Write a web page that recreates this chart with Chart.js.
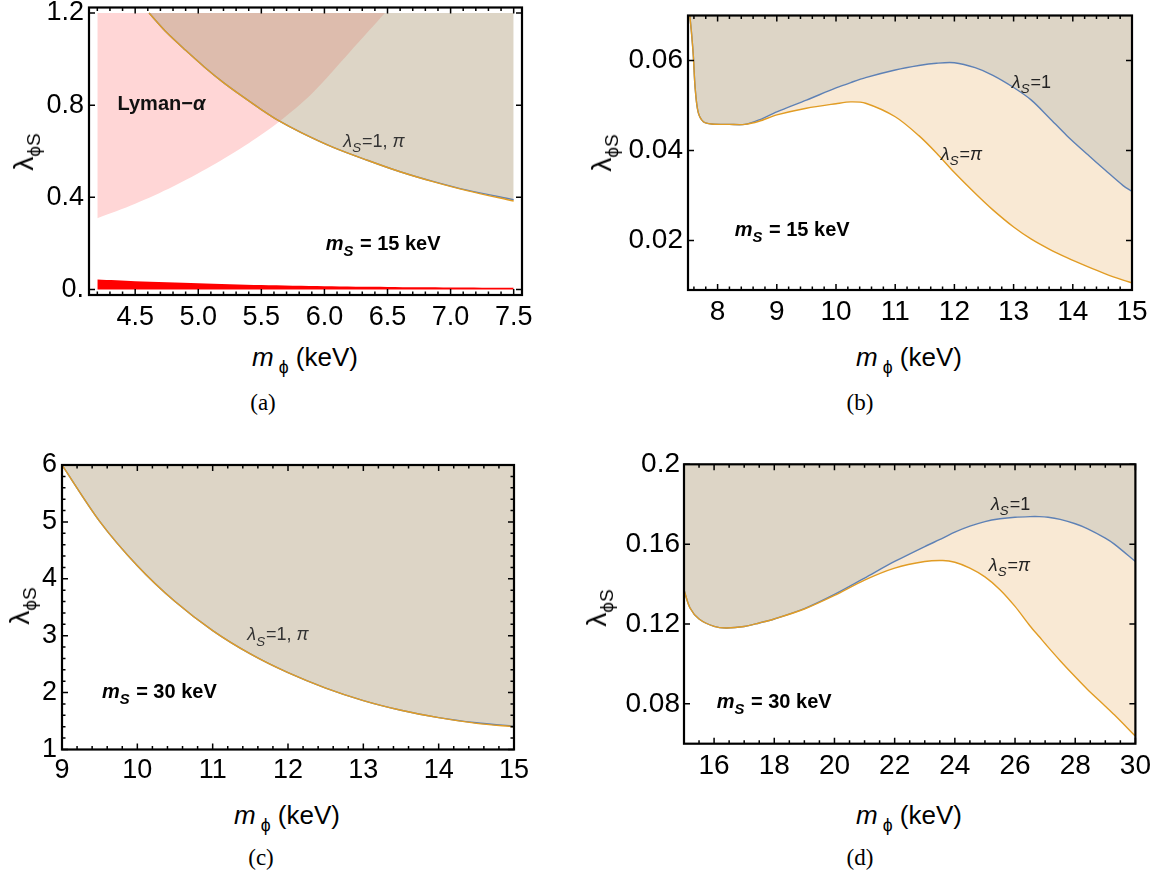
<!DOCTYPE html>
<html><head><meta charset="utf-8">
<script src="https://cdn.jsdelivr.net/npm/chart.js@4.4.1/dist/chart.umd.min.js"></script>
<style>
html,body{margin:0;padding:0;background:#fff;}
body{width:1168px;height:875px;position:relative;overflow:hidden;font-family:"Liberation Sans",Arial,sans-serif;}
canvas{position:absolute;}
.lbl{position:absolute;white-space:nowrap;color:#000;line-height:1;transform:translate(-50%,-50%);}
.xt{font-size:26px;}
.yt{font-size:28px;transform:translate(-50%,-50%) rotate(-90deg);}
.cap{font-family:"Liberation Serif","DejaVu Serif",serif;font-size:23px;}
.sb{font-size:68%;position:relative;top:0.38em;}
</style></head><body>
<canvas id="ca" width="545" height="340" style="left:0px;top:0px"></canvas>
<canvas id="cb" width="588" height="340" style="left:580px;top:0px"></canvas>
<canvas id="cc" width="545" height="340" style="left:0px;top:440px"></canvas>
<canvas id="cd" width="588" height="340" style="left:580px;top:440px"></canvas>

<div class="lbl yt" style="left:24px;top:152px">λ<span class="sb">ϕS</span></div>
<div class="lbl xt" style="left:305px;top:357px"><i>m</i><span class="sb"> ϕ</span> (keV)</div>
<div class="lbl cap" style="left:263px;top:402px">(a)</div>

<div class="lbl yt" style="left:602px;top:153px">λ<span class="sb">ϕS</span></div>
<div class="lbl xt" style="left:909px;top:357px"><i>m</i><span class="sb"> ϕ</span> (keV)</div>
<div class="lbl cap" style="left:860px;top:402px">(b)</div>

<div class="lbl yt" style="left:20px;top:606px">λ<span class="sb">ϕS</span></div>
<div class="lbl xt" style="left:287px;top:815px"><i>m</i><span class="sb"> ϕ</span> (keV)</div>
<div class="lbl cap" style="left:261px;top:857px">(c)</div>

<div class="lbl yt" style="left:597px;top:608px">λ<span class="sb">ϕS</span></div>
<div class="lbl xt" style="left:909px;top:815px"><i>m</i><span class="sb"> ϕ</span> (keV)</div>
<div class="lbl cap" style="left:860px;top:857px">(d)</div>

<script>
// ---------- Panel (a): m_S = 15 keV ----------
const aMphi    = [4.61, 4.75, 4.90, 5.05, 5.20, 5.35, 5.50, 5.63, 5.82, 6.07, 6.34, 6.60, 6.86, 7.13, 7.50];
const aLamS1   = [1.20, 1.115, 1.038, 0.965, 0.898, 0.838, 0.781, 0.735, 0.680, 0.617, 0.561, 0.511, 0.469, 0.431, 0.390];
const aLamSpi  = [1.20, 1.115, 1.038, 0.965, 0.898, 0.838, 0.781, 0.735, 0.680, 0.617, 0.561, 0.511, 0.468, 0.429, 0.384];
const aLymanMphi = [4.20, 4.50, 4.80, 5.10, 5.40, 5.64, 5.90, 6.20, 6.48];
const aLymanLam  = [0.309, 0.372, 0.447, 0.535, 0.635, 0.728, 0.85, 1.03, 1.20];
const aBandMphi = [4.2, 4.5, 5.0, 5.5, 6.0, 6.5, 7.0, 7.5];
const aBandLam  = [0.043, 0.036, 0.027, 0.019, 0.014, 0.011, 0.009, 0.008];
const aXTicks = [4.5, 5.0, 5.5, 6.0, 6.5, 7.0, 7.5];
const aXTickLabels = ["4.5", "5.0", "5.5", "6.0", "6.5", "7.0", "7.5"];
const aYTicks = [0, 0.4, 0.8, 1.2];
const aYTickLabels = ["0.", "0.4", "0.8", "1.2"];

// ---------- Panel (b): m_S = 15 keV ----------
const bMphi   = [7.53, 7.56, 7.59, 7.62, 7.67, 7.76, 7.9, 8.2, 8.46, 8.7, 9.0, 9.5, 10.0, 10.25, 10.5, 11.0, 11.4, 11.7, 12.0, 12.35, 12.65, 13.0, 13.3, 13.6, 13.9, 14.25, 14.55, 14.85, 15.0];
const bLamS1  = [0.070, 0.066, 0.061, 0.054, 0.0486, 0.0464, 0.0459, 0.0458, 0.0458, 0.0468, 0.0486, 0.0512, 0.0539, 0.0551, 0.0562, 0.0579, 0.0589, 0.0594, 0.0595, 0.0584, 0.0567, 0.0540, 0.0512, 0.0473, 0.0433, 0.0391, 0.0356, 0.0322, 0.0309];
const bLamSpi = [0.070, 0.066, 0.061, 0.054, 0.0486, 0.0464, 0.0459, 0.0458, 0.0458, 0.0465, 0.0479, 0.0494, 0.0504, 0.0508, 0.0505, 0.0475, 0.0433, 0.0394, 0.0351, 0.0305, 0.0268, 0.0230, 0.0203, 0.0181, 0.0162, 0.0142, 0.0126, 0.0112, 0.0106];
const bXTicks = [8, 9, 10, 11, 12, 13, 14, 15];
const bXTickLabels = ["8", "9", "10", "11", "12", "13", "14", "15"];
const bYTicks = [0.02, 0.04, 0.06];
const bYTickLabels = ["0.02", "0.04", "0.06"];

// ---------- Panel (c): m_S = 30 keV ----------
const cMphi   = [9.0, 9.5, 10.0, 10.5, 11.0, 11.5, 12.0, 12.5, 13.0, 13.5, 14.0, 14.5, 15.0];
const cLamS1  = [6.0, 5.01, 4.23, 3.60, 3.09, 2.68, 2.35, 2.08, 1.86, 1.69, 1.56, 1.47, 1.41];
const cLamSpi = [6.0, 5.01, 4.23, 3.60, 3.09, 2.68, 2.35, 2.08, 1.86, 1.69, 1.56, 1.46, 1.40];
const cXTicks = [9, 10, 11, 12, 13, 14, 15];
const cXTickLabels = ["9", "10", "11", "12", "13", "14", "15"];
const cYTicks = [1, 2, 3, 4, 5, 6];
const cYTickLabels = ["1", "2", "3", "4", "5", "6"];

// ---------- Panel (d): m_S = 30 keV ----------
const dMphi   = [15.0, 15.2, 15.5, 16.0, 16.4, 17.0, 17.5, 18.0, 19.0, 20.0, 21.0, 22.0, 23.0, 23.6, 24.0, 24.5, 25.0, 25.5, 26.0, 26.5, 26.8, 27.1, 27.5, 28.0, 28.4, 29.0, 29.3, 30.0];
const dLamS1  = [0.137, 0.128, 0.1225, 0.1188, 0.118, 0.1187, 0.1205, 0.1225, 0.1277, 0.1348, 0.1430, 0.1513, 0.1588, 0.1630, 0.1660, 0.1690, 0.1713, 0.1727, 0.1735, 0.1738, 0.1738, 0.1735, 0.1724, 0.1702, 0.1678, 0.1630, 0.1600, 0.1513];
const dLamSpi = [0.137, 0.128, 0.1225, 0.1188, 0.118, 0.1187, 0.1205, 0.1225, 0.1275, 0.1343, 0.1420, 0.1480, 0.1513, 0.1518, 0.1509, 0.1480, 0.1436, 0.1372, 0.1288, 0.1190, 0.1137, 0.1084, 0.1016, 0.0935, 0.0873, 0.0788, 0.0745, 0.0638];
const dXTicks = [16, 18, 20, 22, 24, 26, 28, 30];
const dXTickLabels = ["16", "18", "20", "22", "24", "26", "28", "30"];
const dYTicks = [0.08, 0.12, 0.16, 0.2];
const dYTickLabels = ["0.08", "0.12", "0.16", "0.2"];

// ---------- styling ----------
const BLUE = '#5e81b5', ORANGE = '#e19c24';
const GRAY = '#ddd5c6', GRAY_T = 'rgba(170,150,113,0.4)', LIGHT_OR = '#f9e9d4';
const PINK = '#ffd6d6', RED = '#ff0000';
const FONT = '"Liberation Sans", Arial, sans-serif';

function pts(xs, ys) { return xs.map((x, i) => ({x: x, y: ys[i]})); }

function minorTicks(min, max, step, majors) {
  const out = [];
  const n = Math.round((max - min) / step);
  for (let i = 0; i <= n; i++) {
    const v = +(min + i * step).toFixed(6);
    if (!majors.some(m => Math.abs(m - v) < 1e-9)) out.push(v);
  }
  return out;
}

function drawRich(ctx, x, y, parts, size, color) {
  let cx = x;
  ctx.fillStyle = color; ctx.textBaseline = 'alphabetic'; ctx.textAlign = 'left';
  parts.forEach(p => {
    const fs = p.sub ? size * 0.74 : size;
    ctx.font = (p.it ? 'italic ' : '') + (p.b ? 'bold ' : '') + fs + 'px ' + FONT;
    ctx.fillText(p.t, cx, y + (p.sub ? size * 0.3 : 0));
    cx += ctx.measureText(p.t).width + (p.sub ? 1 : 0);
  });
}

const framePlugin = {
  id: 'frame',
  afterDraw(chart) {
    const o = chart.options.plugins.frame;
    const ctx = chart.ctx, a = chart.chartArea, xs = chart.scales.x, ys = chart.scales.y;
    ctx.save();
    o.notes.forEach(n => {
      drawRich(ctx, xs.getPixelForValue(n.x), ys.getPixelForValue(n.y), n.parts, n.size, n.color);
    });
    ctx.strokeStyle = '#000';
    ctx.lineWidth = 1.5;
    const tx = (v, len) => { const p = xs.getPixelForValue(v); ctx.beginPath(); ctx.moveTo(p, a.bottom); ctx.lineTo(p, a.bottom - len); ctx.moveTo(p, a.top); ctx.lineTo(p, a.top + len); ctx.stroke(); };
    const ty = (v, len) => { const p = ys.getPixelForValue(v); ctx.beginPath(); ctx.moveTo(a.left, p); ctx.lineTo(a.left + len, p); ctx.moveTo(a.right, p); ctx.lineTo(a.right - len, p); ctx.stroke(); };
    o.xMajor.forEach(v => tx(v, 6)); o.xMinor.forEach(v => tx(v, 3.5));
    o.yMajor.forEach(v => ty(v, 6)); o.yMinor.forEach(v => ty(v, 3.5));
    ctx.lineWidth = 2.2;
    ctx.strokeRect(a.left, a.top, a.right - a.left, a.bottom - a.top);
    ctx.restore();
  }
};

function makePanel(id, g) {
  const canvas = document.getElementById(id);
  const W = canvas.width, H = canvas.height;
  return new Chart(canvas, {
    type: 'line',
    data: { datasets: g.datasets },
    options: {
      responsive: false, animation: false, devicePixelRatio: 1,
      layout: { padding: { left: 0, top: g.area.T, right: W - g.area.R, bottom: 0 } },
      elements: { point: { radius: 0 }, line: { tension: 0.3, borderWidth: 1.4 } },
      plugins: {
        legend: { display: false }, tooltip: { enabled: false },
        filler: { drawTime: 'beforeDatasetsDraw' },
        frame: { xMajor: g.xTicks, xMinor: g.xMinor, yMajor: g.yTicks, yMinor: g.yMinor, notes: g.notes }
      },
      scales: {
        x: {
          type: 'linear', min: g.xMin, max: g.xMax,
          grid: { display: false, drawTicks: false, tickLength: 0 }, border: { display: false },
          afterBuildTicks: s => { s.ticks = g.xTicks.map(v => ({value: v})); },
          afterFit: s => { s.height = H - g.area.B; s.paddingLeft = 0; s.paddingRight = 0; s.paddingTop = 0; s.paddingBottom = 0; },
          ticks: { autoSkip: false, maxRotation: 0, minRotation: 0, padding: g.xPad, color: '#000',
                   font: { family: FONT, size: g.fs }, callback: (v, i) => g.xLabels[i] }
        },
        y: {
          type: 'linear', min: g.yMin, max: g.yMax,
          grid: { display: false, drawTicks: false, tickLength: 0 }, border: { display: false },
          afterBuildTicks: s => { s.ticks = g.yTicks.map(v => ({value: v})); },
          afterFit: s => { s.width = g.area.L; s.paddingLeft = 0; s.paddingRight = 0; s.paddingTop = 0; s.paddingBottom = 0; },
          ticks: { autoSkip: false, padding: g.yPad, color: '#000',
                   font: { family: FONT, size: g.fs }, callback: (v, i) => g.yLabels[i] }
        }
      }
    },
    plugins: [framePlugin]
  });
}

const lamLabel = (rest) => [{t: 'λ', it: true}, {t: 'S', it: true, sub: true}].concat(rest);
const msLabel = (val) => [{t: 'm', it: true, b: true}, {t: 'S', it: true, b: true, sub: true}, {t: ' = ' + val + ' keV', b: true}];

// (a)
makePanel('ca', {
  area: {L: 89, R: 522, T: 7.5, B: 295}, xMin: 4.134, xMax: 7.566, yMin: -0.024, yMax: 1.224,
  xTicks: aXTicks, xLabels: aXTickLabels, yTicks: aYTicks, yLabels: aYTickLabels,
  xMinor: minorTicks(4.2, 7.5, 0.1, aXTicks), yMinor: [], fs: 27, xPad: 6, yPad: 5,
  datasets: [
    { data: pts(aMphi, aLamSpi), borderColor: ORANGE, fill: false, order: 0 },
    { data: pts(aMphi, aLamS1), borderColor: BLUE, backgroundColor: GRAY_T, fill: {value: 1.2}, order: 1 },
    { data: pts(aLymanMphi, aLymanLam), borderWidth: 0, borderColor: 'rgba(0,0,0,0)', backgroundColor: PINK, fill: {value: 1.2}, order: 2 },
    { data: pts(aBandMphi, aBandLam), borderWidth: 0, borderColor: 'rgba(0,0,0,0)', backgroundColor: RED, fill: {value: 0}, order: 3 }
  ],
  notes: [
    { x: 4.36, y: 0.779, size: 20, color: '#111', parts: [{t: 'Lyman\u2212', b: true}, {t: 'α', b: true, it: true}] },
    { x: 6.15, y: 0.619, size: 18, color: '#333', parts: lamLabel([{t: '=1, '}, {t: 'π', it: true}]) },
    { x: 6.01, y: 0.171, size: 20, color: '#000', parts: msLabel('15') }
  ]
});

// (b)
makePanel('cb', {
  area: {L: 108, R: 552, T: 15.5, B: 290}, xMin: 7.5, xMax: 15, yMin: 0.009, yMax: 0.070,
  xTicks: bXTicks, xLabels: bXTickLabels, yTicks: bYTicks, yLabels: bYTickLabels,
  xMinor: minorTicks(7.6, 14.8, 0.2, bXTicks), yMinor: [], fs: 28, xPad: 5, yPad: 5,
  datasets: [
    { data: pts(bMphi, bLamS1), borderColor: BLUE, backgroundColor: GRAY, fill: 'end', order: 2 },
    { data: pts(bMphi, bLamSpi), borderColor: ORANGE, backgroundColor: LIGHT_OR, fill: '-1', order: 1 }
  ],
  notes: [
    { x: 12.97, y: 0.054, size: 18, color: '#222', parts: lamLabel([{t: '=1'}]) },
    { x: 11.77, y: 0.0379, size: 18, color: '#222', parts: lamLabel([{t: '='}, {t: 'π', it: true}]) },
    { x: 8.29, y: 0.0209, size: 20, color: '#000', parts: msLabel('15') }
  ]
});

// (c)
makePanel('cc', {
  area: {L: 62, R: 514, T: 25, B: 309.5}, xMin: 9, xMax: 15, yMin: 1, yMax: 6,
  xTicks: cXTicks, xLabels: cXTickLabels, yTicks: cYTicks, yLabels: cYTickLabels,
  xMinor: minorTicks(9, 15, 0.2, cXTicks), yMinor: minorTicks(1, 6, 0.2, cYTicks), fs: 27, xPad: 5, yPad: 5,
  datasets: [
    { data: pts(cMphi, cLamSpi), borderColor: ORANGE, fill: false, order: 0 },
    { data: pts(cMphi, cLamS1), borderColor: BLUE, backgroundColor: GRAY, fill: 'end', order: 1 }
  ],
  notes: [
    { x: 11.46, y: 2.92, size: 18, color: '#333', parts: lamLabel([{t: '=1, '}, {t: 'π', it: true}]) },
    { x: 9.53, y: 1.905, size: 20, color: '#000', parts: msLabel('30') }
  ]
});

// (d)
makePanel('cd', {
  area: {L: 104, R: 555.4, T: 24.3, B: 303.7}, xMin: 15, xMax: 30, yMin: 0.06, yMax: 0.2,
  xTicks: dXTicks, xLabels: dXTickLabels, yTicks: dYTicks, yLabels: dYTickLabels,
  xMinor: minorTicks(15, 30, 0.5, dXTicks), yMinor: [], fs: 28, xPad: 6, yPad: 4,
  datasets: [
    { data: pts(dMphi, dLamS1), borderColor: BLUE, backgroundColor: GRAY, fill: 'end', order: 2 },
    { data: pts(dMphi, dLamSpi), borderColor: ORANGE, backgroundColor: LIGHT_OR, fill: '-1', order: 1 }
  ],
  notes: [
    { x: 25.2, y: 0.1772, size: 18, color: '#222', parts: lamLabel([{t: '=1'}]) },
    { x: 25.13, y: 0.1467, size: 18, color: '#222', parts: lamLabel([{t: '='}, {t: 'π', it: true}]) },
    { x: 16.09, y: 0.078, size: 20, color: '#000', parts: msLabel('30') }
  ]
});
</script>
</body></html>
